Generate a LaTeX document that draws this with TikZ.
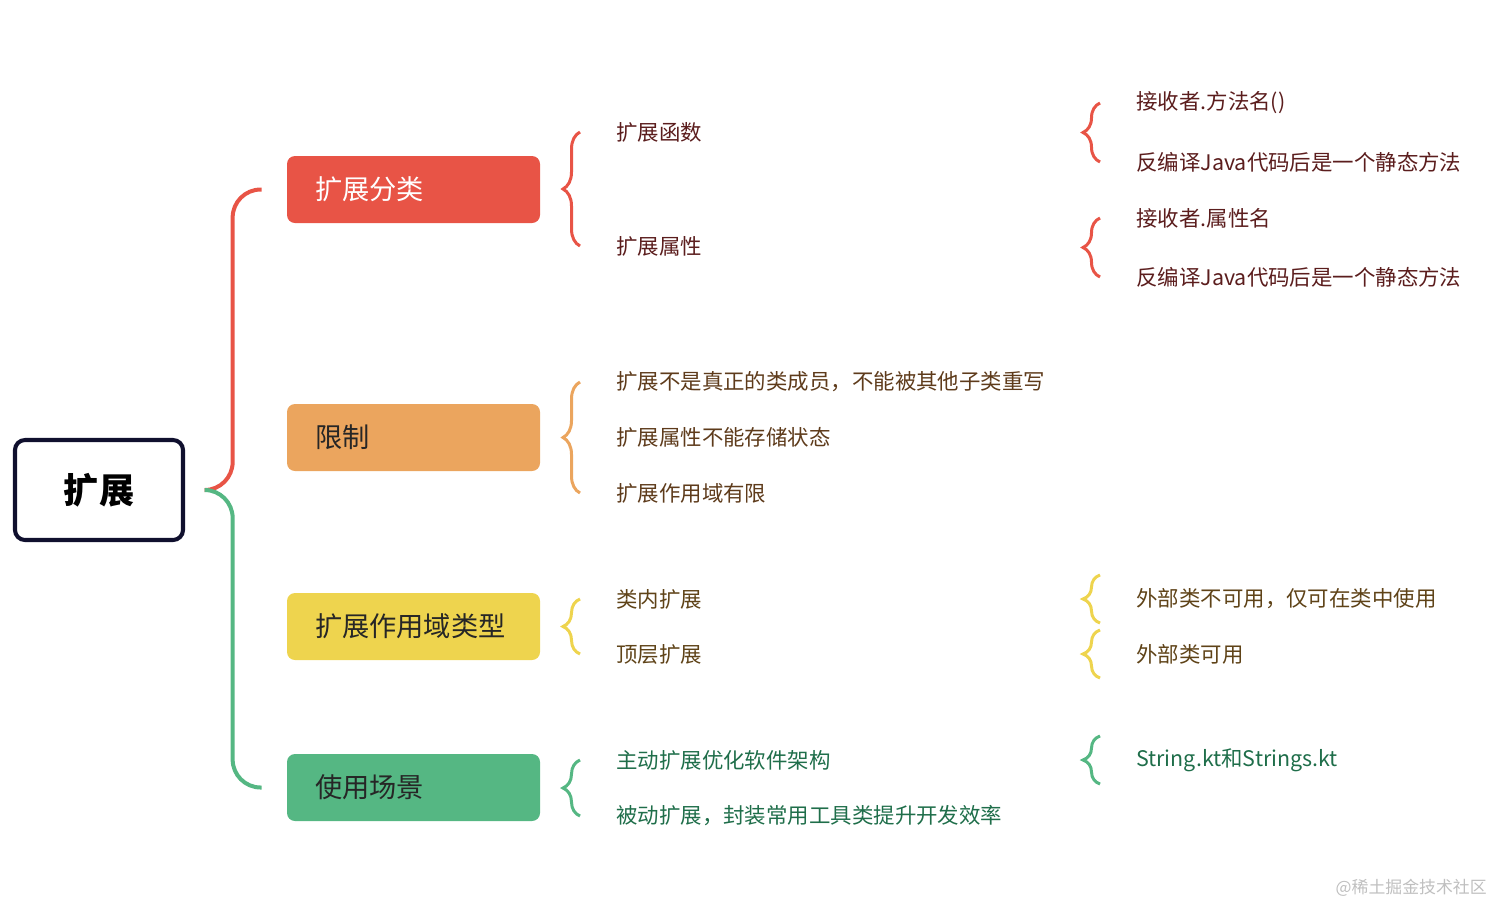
\documentclass[tikz,border=0pt]{standalone}
\usepackage{fontspec}
\setmainfont{Noto Sans CJK SC}
\usepackage{xcolor}
\usepackage{tikz}
\usetikzlibrary{calc,decorations.pathreplacing}
\definecolor{kred}{HTML}{E85446}
\definecolor{korange}{HTML}{EBA55E}
\definecolor{kyellow}{HTML}{EED44E}
\definecolor{kgreen}{HTML}{55B783}
\definecolor{knavy}{HTML}{10102E}
\definecolor{tred}{HTML}{5B1D1D}
\definecolor{torange}{HTML}{5E3B1B}
\definecolor{tyellow}{HTML}{5F4318}
\definecolor{tgreen}{HTML}{1F6E4A}
\tikzset{
 cat/.style={rectangle,rounded corners=1.6mm,minimum width=50.6mm,minimum height=13.4mm,inner xsep=5.6mm,text width=39.4mm,align=left,text=black!85,font=\fontsize{15.5}{18}\selectfont},
 leaf/.style={anchor=west,inner sep=0pt,font=\fontsize{12.2}{14}\selectfont},
 curly/.style={decorate,decoration={brace,amplitude=3.4mm},line width=0.6mm},
 link/.style={line width=0.8mm,rounded corners=5.6mm},
}
\begin{document}
\begin{tikzpicture}[x=0.2mm,y=-0.2mm]
\useasboundingbox(0,0)rectangle(1512,923);
\node[draw=knavy,line width=2.3pt,rounded corners=2mm,minimum width=33.6mm,minimum height=20mm,font=\fontsize{20}{24}\selectfont\bfseries](root)at(99,490){扩展};
\node[cat,fill=kred,text=white](c1)at(413.5,189.5){扩展分类};
\node[cat,fill=korange](c2)at(413.5,437.5){限制};
\node[cat,fill=kyellow](c3)at(413.5,626.5){扩展作用域类型};
\node[cat,fill=kgreen](c4)at(413.5,787.5){使用场景};
\coordinate(hub)at($(root.east)+(20,0)$);
\draw[link,kred](hub)-|($(c1.west)+(-54,0)$)--($(c1.west)+(-25,0)$);
\draw[link,kgreen](hub)-|($(c4.west)+(-54,0)$)--($(c4.west)+(-25,0)$);
\node[leaf,text=tred](a1)at(616,132){扩展函数};
\node[leaf,text=tred](a2)at(616,246){扩展属性};
\node[leaf,text=torange](b1)at(616,382){扩展不是真正的类成员，不能被其他子类重写};
\node[leaf,text=torange](b2)at(616,437){扩展属性不能存储状态};
\node[leaf,text=torange](b3)at(616,493){扩展作用域有限};
\node[leaf,text=tyellow](d1)at(616,599){类内扩展};
\node[leaf,text=tyellow](d2)at(616,654){顶层扩展};
\node[leaf,text=tgreen](e1)at(616,760){主动扩展优化软件架构};
\node[leaf,text=tgreen](e2)at(616,816){被动扩展，封装常用工具类提升开发效率};
\node[leaf,text=tred](a11)at(1136,103){接收者.方法名()};
\node[leaf,text=tred](a12)at(1136,162){反编译Java代码后是一个静态方法};
\node[leaf,text=tred](a21)at(1136,218){接收者.属性名};
\node[leaf,text=tred](a22)at(1136,277){反编译Java代码后是一个静态方法};
\node[leaf,text=tyellow](d11)at(1136,599){外部类不可用，仅可在类中使用};
\node[leaf,text=tyellow](d21)at(1136,654){外部类可用};
\node[leaf,text=tgreen](e11)at(1136,760){String.kt和Strings.kt};
\draw[curly,kred]($(a2.west)+(-36,0)$)--($(a1.west)+(-36,0)$);
\draw[curly,korange]($(b3.west)+(-36,0)$)--($(b1.west)+(-36,0)$);
\draw[curly,kyellow]($(d2.west)+(-36,0)$)--($(d1.west)+(-36,0)$);
\draw[curly,kgreen]($(e2.west)+(-36,0)$)--($(e1.west)+(-36,0)$);
\draw[curly,kred]($(a12.west)+(-36,0)$)--($(a11.west)+(-36,0)$);
\draw[curly,kred]($(a22.west)+(-36,0)$)--($(a21.west)+(-36,0)$);
\draw[curly,kyellow]($(d11.west)+(-36,24)$)--($(d11.west)+(-36,-24)$);
\draw[curly,kyellow]($(d21.west)+(-36,24)$)--($(d21.west)+(-36,-24)$);
\draw[curly,kgreen]($(e11.west)+(-36,24)$)--($(e11.west)+(-36,-24)$);
\node[anchor=east,inner sep=0pt,text=black!25,font=\fontsize{9.6}{11}\selectfont](wm)at(1487,888){@稀土掘金技术社区};
\end{tikzpicture}
\end{document}
